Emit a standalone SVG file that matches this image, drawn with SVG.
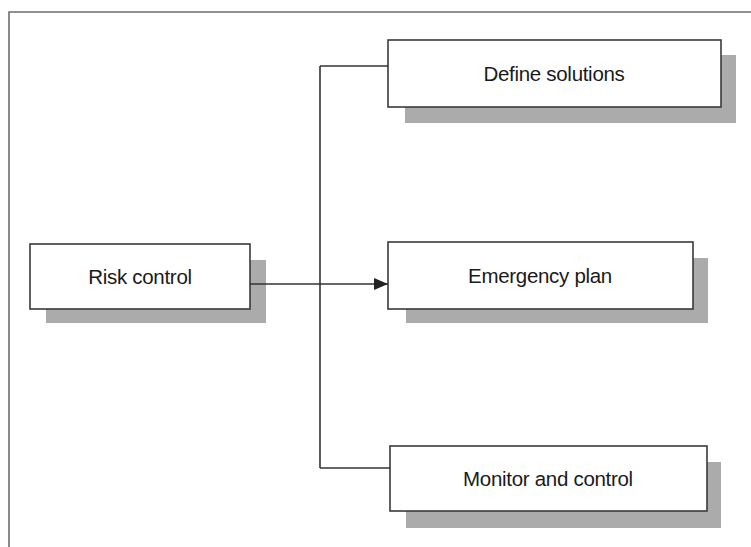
<svg xmlns="http://www.w3.org/2000/svg" width="751" height="547" viewBox="0 0 751 547">
  <style>
    .frame { fill: none; stroke: #6e6e6e; stroke-width: 1.6; }
    .box { fill: #ffffff; stroke: #3a3a3a; stroke-width: 1.6; }
    .shadow { fill: #ababab; }
    .wire { fill: none; stroke: #333333; stroke-width: 1.6; }
    .label { font-family: "Liberation Sans", Arial, sans-serif; font-size: 20.5px; fill: #1a1a1a; text-anchor: middle; letter-spacing: -0.3px; }
  </style>
  <defs>
    <marker id="arrow" viewBox="0 0 14 12" refX="14" refY="6" markerWidth="14" markerHeight="12" markerUnits="userSpaceOnUse" orient="auto">
      <path d="M0,0 L14,6 L0,12 z" fill="#222222"/>
    </marker>
  </defs>
  <rect width="751" height="547" fill="#ffffff"/>

  <!-- outer frame, open to the right and bottom -->
  <path class="frame" d="M9,560 V12 H760"/>

  <g id="risk-control">
    <rect class="shadow" x="46" y="260" width="220" height="63"/>
    <rect class="box" x="30" y="244" width="220" height="65"/>
    <text class="label" x="140" y="284">Risk control</text>
  </g>

  <g id="define-solutions">
    <rect class="shadow" x="405" y="55" width="331" height="68"/>
    <rect class="box" x="388" y="40" width="333" height="67"/>
    <text class="label" x="554" y="81">Define solutions</text>
  </g>

  <g id="emergency-plan">
    <rect class="shadow" x="406" y="258" width="302" height="65"/>
    <rect class="box" x="388" y="242" width="305" height="67"/>
    <text class="label" x="540" y="283">Emergency plan</text>
  </g>

  <g id="monitor-and-control">
    <rect class="shadow" x="406" y="462" width="315" height="66"/>
    <rect class="box" x="390" y="446" width="317" height="65"/>
    <text class="label" x="548" y="486">Monitor and control</text>
  </g>

  <!-- connectors, drawn over the node shadows -->
  <g id="connectors">
    <path class="wire" d="M320,66 V468"/>
    <path class="wire" d="M320,66 H388"/>
    <path class="wire" d="M320,468 H390"/>
    <path class="wire" d="M250,284 H388" marker-end="url(#arrow)"/>
  </g>
</svg>
